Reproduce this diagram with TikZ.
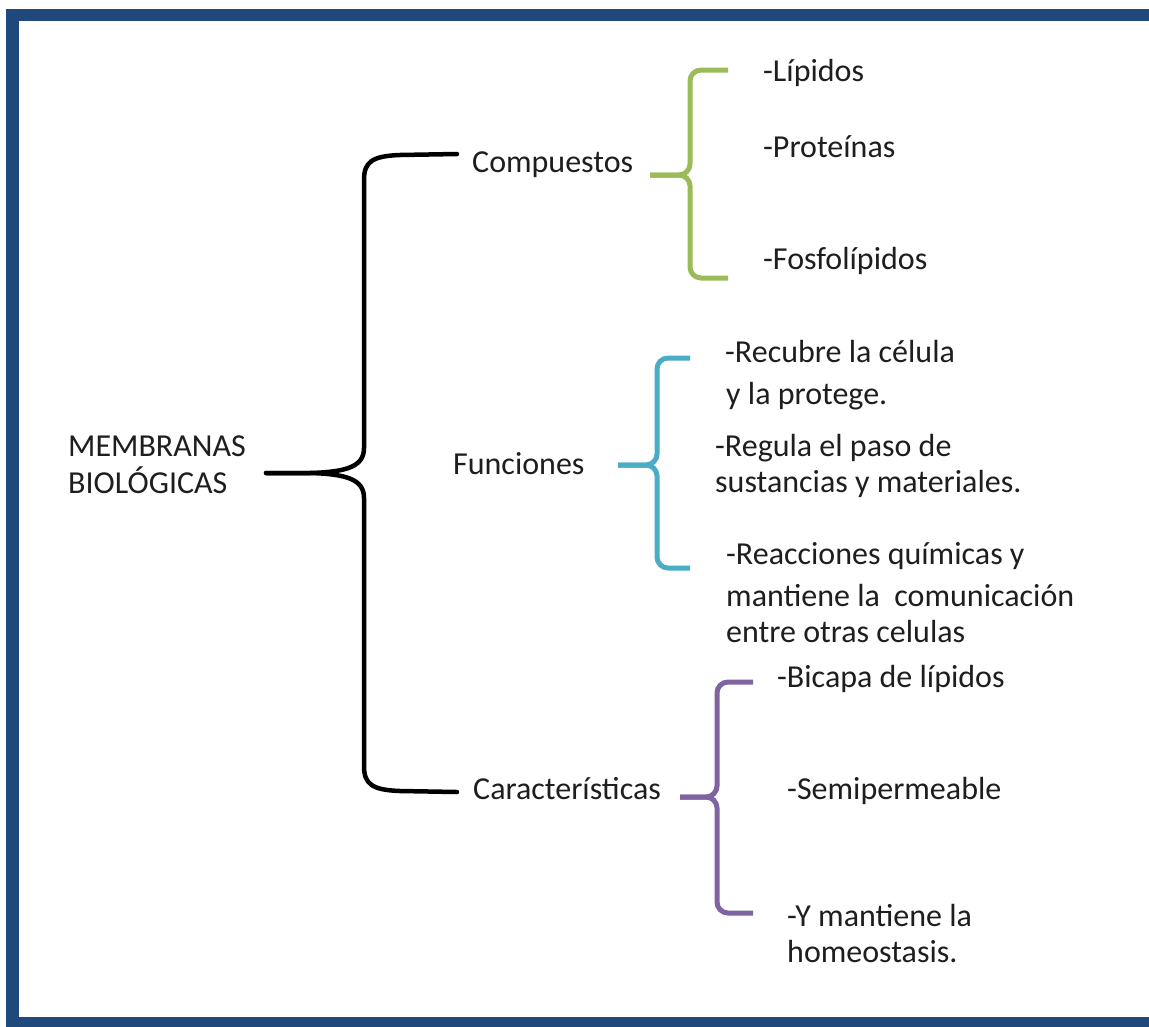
\documentclass[tikz,border=0pt]{standalone}
\usepackage{fontspec}
\setmainfont{Carlito}
\definecolor{frameblue}{HTML}{1F497D}
\definecolor{brgreen}{HTML}{9BBB59}
\definecolor{brcyan}{HTML}{4BACC6}
\definecolor{brpurple}{HTML}{8064A2}
\definecolor{txt}{HTML}{1E1E1E}
\begin{document}
\begin{tikzpicture}[x=1pt,y=-1pt,
  lbl/.style={anchor=base west,inner sep=0pt,text=txt,font=\fontsize{32}{39}\selectfont},
  blackbrace/.style={draw=black,line width=4.5pt,line cap=round},
  colbrace/.style={line width=5pt,rounded corners=11pt,line cap=butt}]
\useasboundingbox (0,0) rectangle (1149,1026);
\fill[white] (0,0) rectangle (1149,1026);
% frame
\fill[frameblue] (6,9) rectangle (1160,1040);
\fill[white] (19,21) rectangle (1160,1017);

% texts
\node[lbl] (membr1) at (68,456) {MEMBRANAS};
\node[lbl] (membr2) at (68,493) {BIOLÓGICAS};
\node[lbl] (comp) at (472,172) {Compuestos};
\node[lbl] (func) at (453,474) {Funciones};
\node[lbl] (carac) at (473,799) {Características};

\node[lbl] (lip) at (763,81) {-Lípidos};
\node[lbl] (prot) at (763,157) {-Proteínas};
\node[lbl] (fosf) at (763,269) {-Fosfolípidos};

\node[lbl] (recub1) at (725,362) {-Recubre la célula};
\node[lbl] (recub2) at (726,404) {y la protege.};
\node[lbl] (regula1) at (715,456) {-Regula el paso de};
\node[lbl] (regula2) at (715,492) {sustancias y materiales.};
\node[lbl] (reac1) at (726,564) {-Reacciones químicas y};
\node[lbl] (reac2) at (726,606) {mantiene la\ \ comunicación};
\node[lbl] (reac3) at (726,642) {entre otras celulas};

\node[lbl] (bicapa) at (777,687) {-Bicapa de lípidos};
\node[lbl] (semi) at (787,799) {-Semipermeable};
\node[lbl] (ymant1) at (787,926) {-Y mantiene la};
\node[lbl] (ymant2) at (787,962) {homeostasis.};

% black brace
\coordinate (btip) at (266,473);
\coordinate (btop) at (457,154);
\coordinate (bbot) at (457,792);
\draw[blackbrace] (btop) -- (400,155) .. controls (372,156) and (364,162) .. (364,180)
  -- (364,448) .. controls (364,466) and (348,472) .. (310,473) -- (btip);
\draw[blackbrace] (btip) -- (310,473) .. controls (348,474) and (364,480) .. (364,498)
  -- (364,766) .. controls (364,784) and (372,790) .. (400,791) -- (bbot);

% green brace
\draw[colbrace,draw=brgreen] (728,70) -- (690,70) -- (690,175) -- (650,175);
\draw[colbrace,draw=brgreen] (650,175) -- (690,175) -- (690,278) -- (728,278);

% cyan brace
\draw[colbrace,draw=brcyan] (690,358) -- (657,358) -- (657,465) -- (618,465);
\draw[colbrace,draw=brcyan] (618,465) -- (657,465) -- (657,568) -- (690,568);

% purple brace
\draw[colbrace,draw=brpurple] (753,682) -- (717,682) -- (717,797) -- (680,797);
\draw[colbrace,draw=brpurple] (680,797) -- (717,797) -- (717,913) -- (753,913);
\end{tikzpicture}
\end{document}
